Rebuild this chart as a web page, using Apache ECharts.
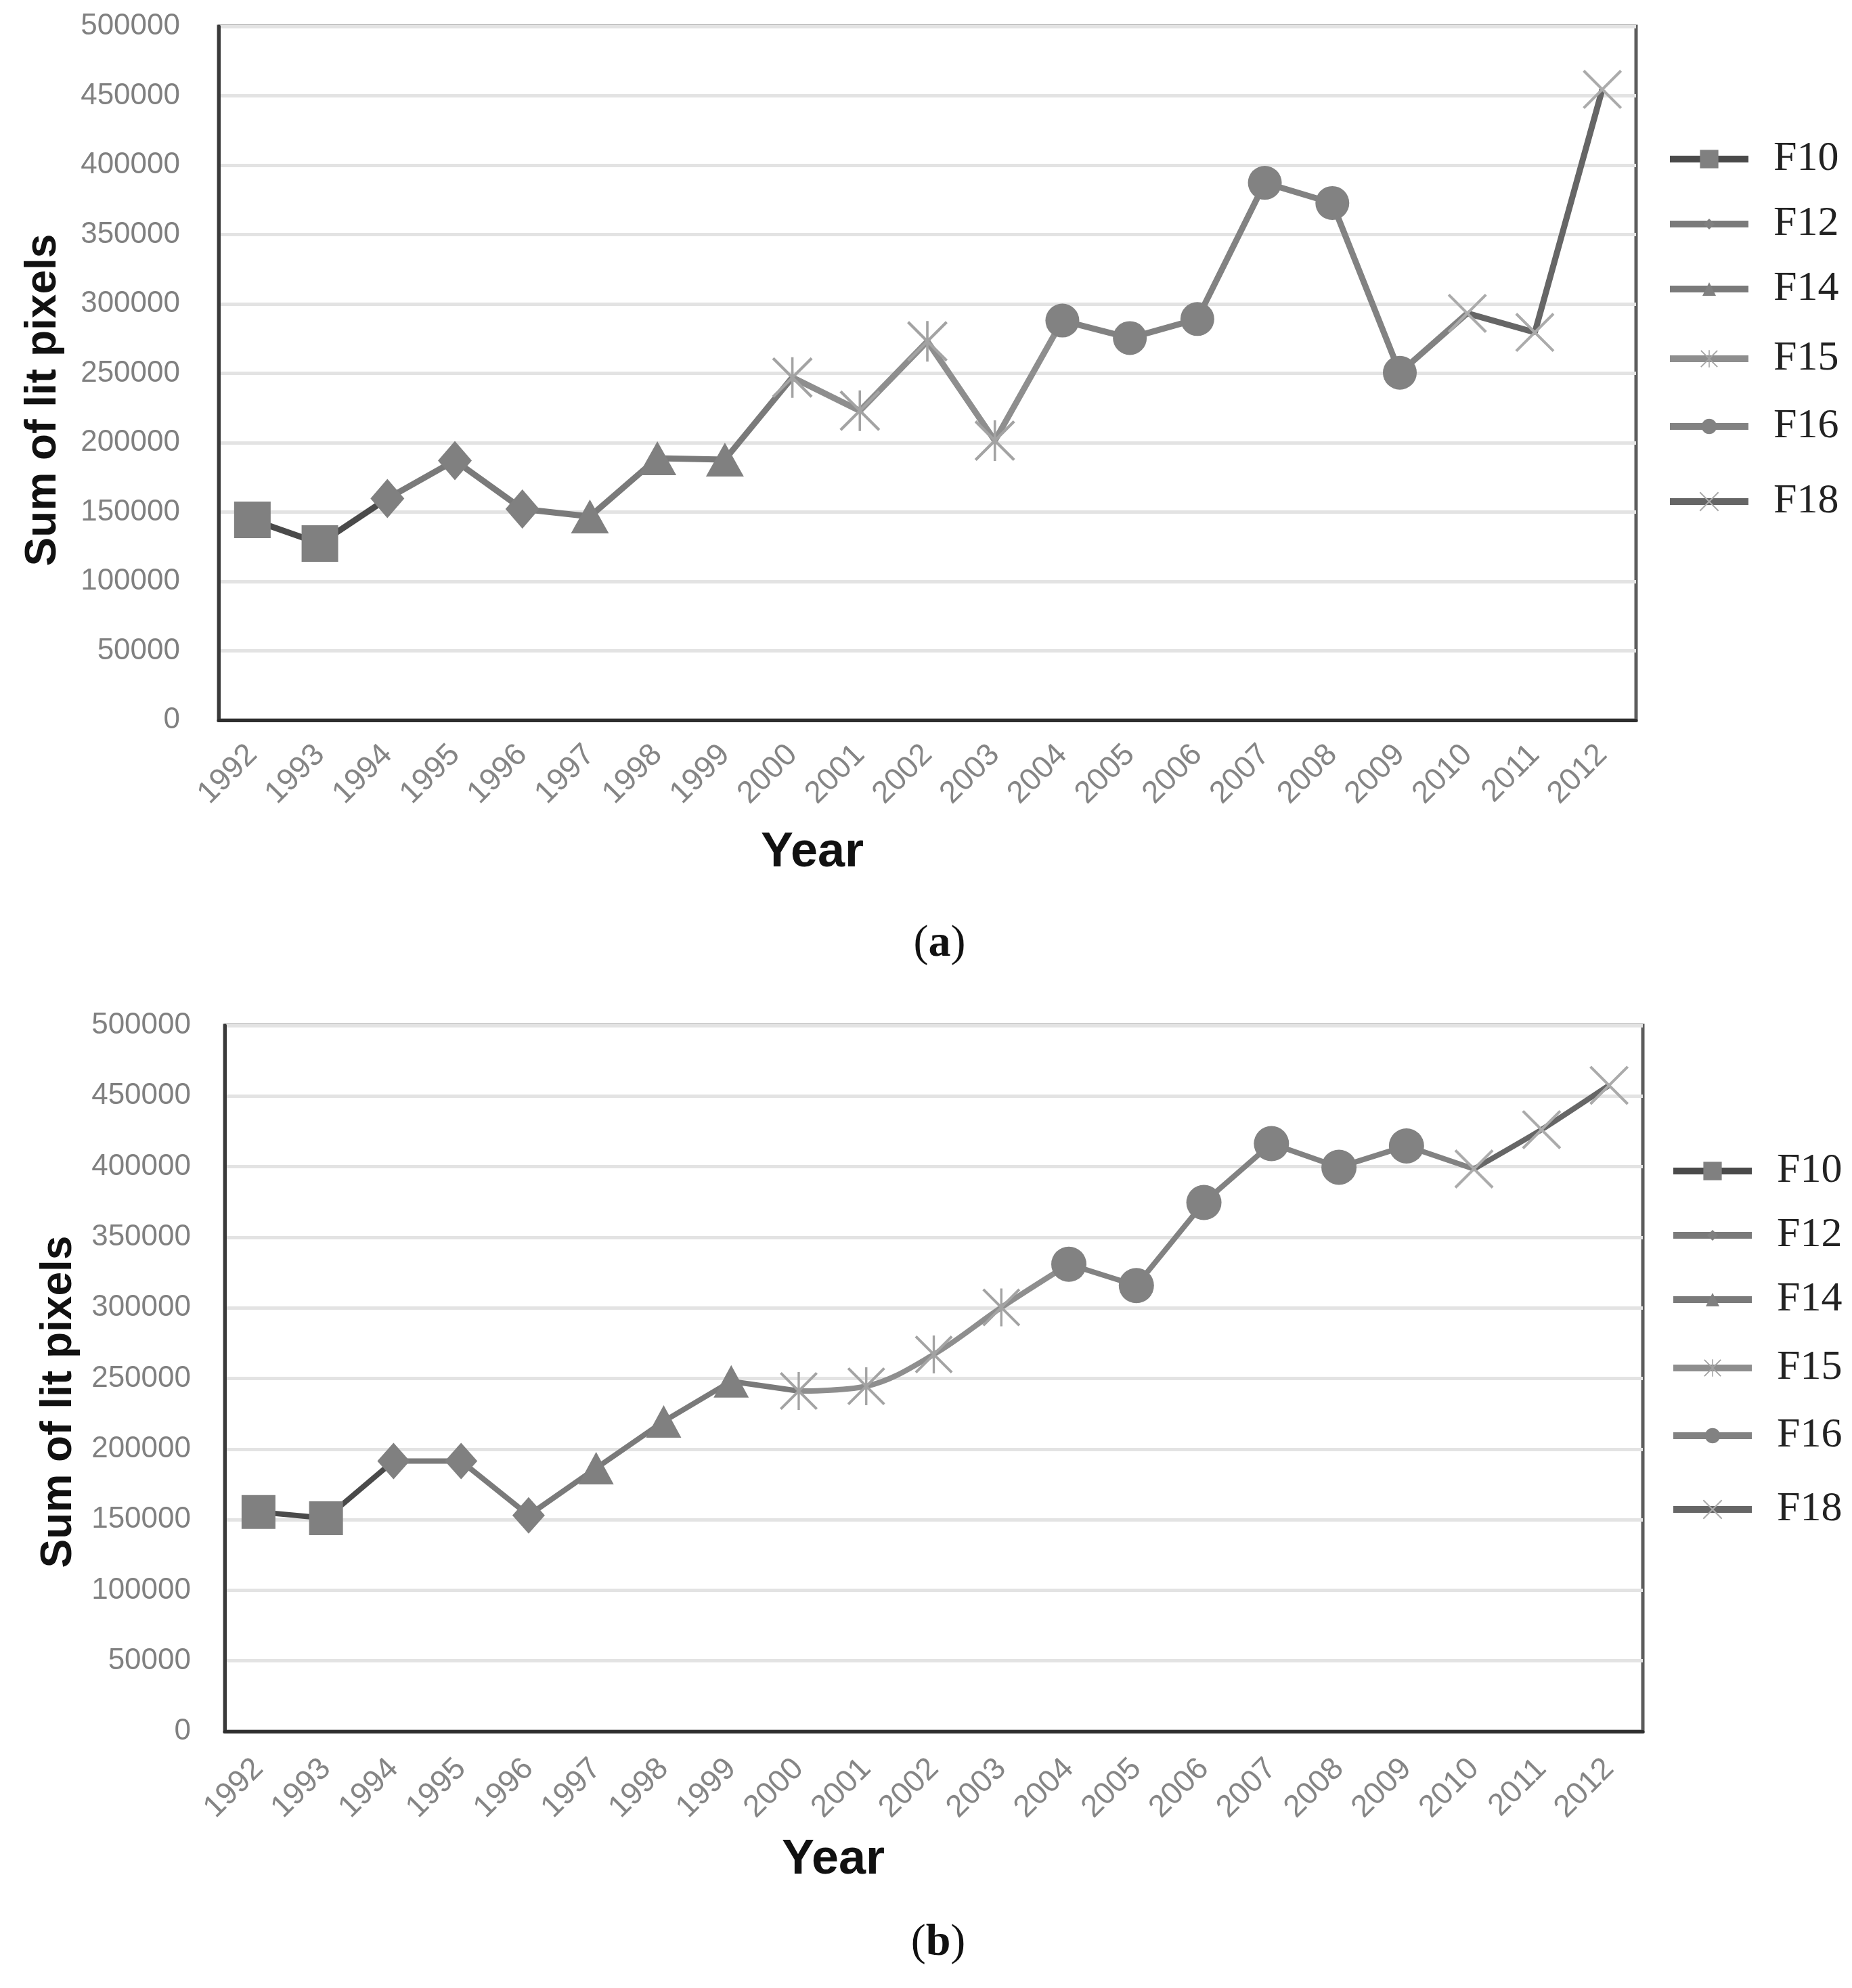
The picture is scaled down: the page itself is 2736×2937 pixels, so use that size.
<!DOCTYPE html>
<html>
<head>
<meta charset="utf-8">
<script src="https://cdn.jsdelivr.net/npm/echarts@6/dist/echarts.min.js"></script>
<style>
html,body{margin:0;padding:0;background:#ffffff;}
#c{width:2736px;height:2937px;}
</style>
</head>
<body>
<div id="c"></div>
<script>
// ---------- data ----------
const years = ['1992','1993','1994','1995','1996','1997','1998','1999','2000','2001','2002',
               '2003','2004','2005','2006','2007','2008','2009','2010','2011','2012'];
const seriesNames = ['F10','F12','F14','F15','F16','F18'];
// index (into years) of the first marker of each series
const seriesStart = [0, 2, 5, 8, 12, 18];
// chart (a)
const valuesA = [144400,127300,159700,187100,152200,146800,188800,187800,247000,223000,273000,
                 201500,288000,275400,289100,387300,372700,250400,293200,279500,454600];
// chart (b)
const valuesB = [155500,151000,191500,191500,153100,186500,219600,248000,241100,244500,267000,
                 300300,330900,315800,374600,416300,399600,414700,398400,426200,457600];
const yMin = 0, yMax = 500000, yStep = 50000;
const yTitle = 'Sum of lit pixels';
const xTitle = 'Year';
const captions = ['a', 'b'];

// ---------- styles ----------
const starPath = 'path://M47,0L53,0L53,100L47,100Z M0,5L5,0L100,95L95,100Z M95,0L100,5L5,100L0,95Z';
const xPath = 'path://M0,5L5,0L100,95L95,100Z M95,0L100,5L5,100L0,95Z';
const symbols = ['rect', 'diamond', 'triangle', starPath, 'circle', xPath];
const lineColors = ['#4a4a4a', '#7a7a7a', '#7a7a7a', '#8e8e8e', '#828282', '#666666'];
const markColors = ['#808080', '#808080', '#808080', '#a3a3a3', '#828282', '#ababab'];
const symSizesA = [54, [50, 58], [56, 50], 60, 50, 58];
const symSizesB = [50, [48, 54], [52, 48], 56, 52, 58];
const smoothB = [false, false, false, 0.35, false, 0.2];
const legendIconH = [34, 20, 25, 32, 28, 36];
const legendCentersA = [235, 331, 427, 530, 630, 741];
const legendCentersB = [1730, 1825, 1920, 2021, 2121, 2230];

const grids = [
  {left: 323, top: 39, width: 2094, height: 1025},
  {left: 332, top: 1515, width: 2095, height: 1043}
];

function buildSeries(values, gi, sizes, smooth, lw) {
  const out = [];
  for (let i = 0; i < seriesNames.length; i++) {
    const s = seriesStart[i];
    const last = i < seriesNames.length - 1 ? seriesStart[i + 1] : years.length - 1;
    const data = years.map((y, k) => {
      if (k < s || k > last) return '-';
      if (i < seriesNames.length - 1 && k === last) return {value: values[k], symbol: 'none'};
      return values[k];
    });
    out.push({
      name: seriesNames[i],
      type: 'line',
      xAxisIndex: gi, yAxisIndex: gi,
      data: data,
      symbol: symbols[i],
      symbolSize: sizes[i],
      smooth: smooth ? smooth[i] : false,
      connectNulls: false,
      lineStyle: {color: lineColors[i], width: lw},
      itemStyle: {color: markColors[i], borderWidth: 0},
      emphasis: {disabled: true},
      z: 3 + i
    });
  }
  return out;
}

const series = buildSeries(valuesA, 0, symSizesA, null, 9)
  .concat(buildSeries(valuesB, 1, symSizesB, smoothB, 8));

const legends = [];
[[legendCentersA, 2462], [legendCentersB, 2467]].forEach(([centers, left]) => {
  seriesNames.forEach((n, i) => {
    legends.push({
      data: [n],
      orient: 'vertical',
      left: left,
      top: centers[i] - 31,
      padding: 0,
      itemWidth: 116,
      itemHeight: legendIconH[i],
      selectedMode: false,
      lineStyle: {width: 10},
      textStyle: {fontFamily: 'Liberation Serif', fontSize: 62, lineHeight: 62, color: '#222222',
                  padding: [0, 0, 0, 32]}
    });
  });
});

function xAxis(gi, margin) {
  return {
    type: 'category', gridIndex: gi, data: years, boundaryGap: true,
    axisLine: {show: true, lineStyle: {color: '#2e2e2e', width: 5}},
    axisTick: {show: false},
    axisLabel: {interval: 0, rotate: 45, margin: margin, fontSize: 46,
                fontFamily: 'Liberation Sans', color: '#858585'},
    splitLine: {show: false}
  };
}
function yAxis(gi, margin) {
  return {
    type: 'value', gridIndex: gi, min: yMin, max: yMax, interval: yStep,
    axisLine: {show: true, lineStyle: {color: '#3a3a3a', width: 5}},
    axisTick: {show: false},
    axisLabel: {margin: margin, fontSize: 44, fontFamily: 'Liberation Sans', color: '#808080',
                formatter: v => String(v)},
    splitLine: {show: true, lineStyle: {color: '#e3e3e3', width: 5}}
  };
}

function titleText(x, y, text, rot, size) {
  return {type: 'text', x: x, y: y, rotation: rot, z: 10,
    style: {text: text, font: 'bold ' + size + 'px "Liberation Sans"', fill: '#111111',
            align: 'center', verticalAlign: 'middle'}};
}
function captionText(x, y, letter) {
  return {type: 'text', x: x, y: y, z: 10,
    style: {text: '{p|(}{q|' + letter + '}{p|)}', align: 'center', verticalAlign: 'middle',
      rich: {
        p: {fontFamily: 'Liberation Serif', fontSize: 66, fill: '#111111', color: '#111111'},
        q: {fontFamily: 'Liberation Serif', fontSize: 66, fontWeight: 'bold', fill: '#111111', color: '#111111'}
      }}};
}

const option = {
  animation: false,
  backgroundColor: '#ffffff',
  grid: grids.map(g => Object.assign({show: true, borderColor: '#5c5c5c', borderWidth: 5,
                                      backgroundColor: '#ffffff', containLabel: false}, g)),
  xAxis: [xAxis(0, 44), xAxis(1, 48)],
  yAxis: [yAxis(0, 57), yAxis(1, 50)],
  legend: legends,
  series: series,
  graphic: [
    titleText(64, 591, yTitle, Math.PI / 2, 64),
    titleText(87, 2071, yTitle, Math.PI / 2, 64),
    titleText(1200, 1260, xTitle, 0, 72),
    titleText(1231, 2748, xTitle, 0, 72),
    captionText(1388, 1395, captions[0]),
    captionText(1386, 2871, captions[1])
  ]
};

const chart = echarts.init(document.getElementById('c'), null, {renderer: 'canvas', width: 2736, height: 2937});
chart.setOption(option);
</script>
</body>
</html>
